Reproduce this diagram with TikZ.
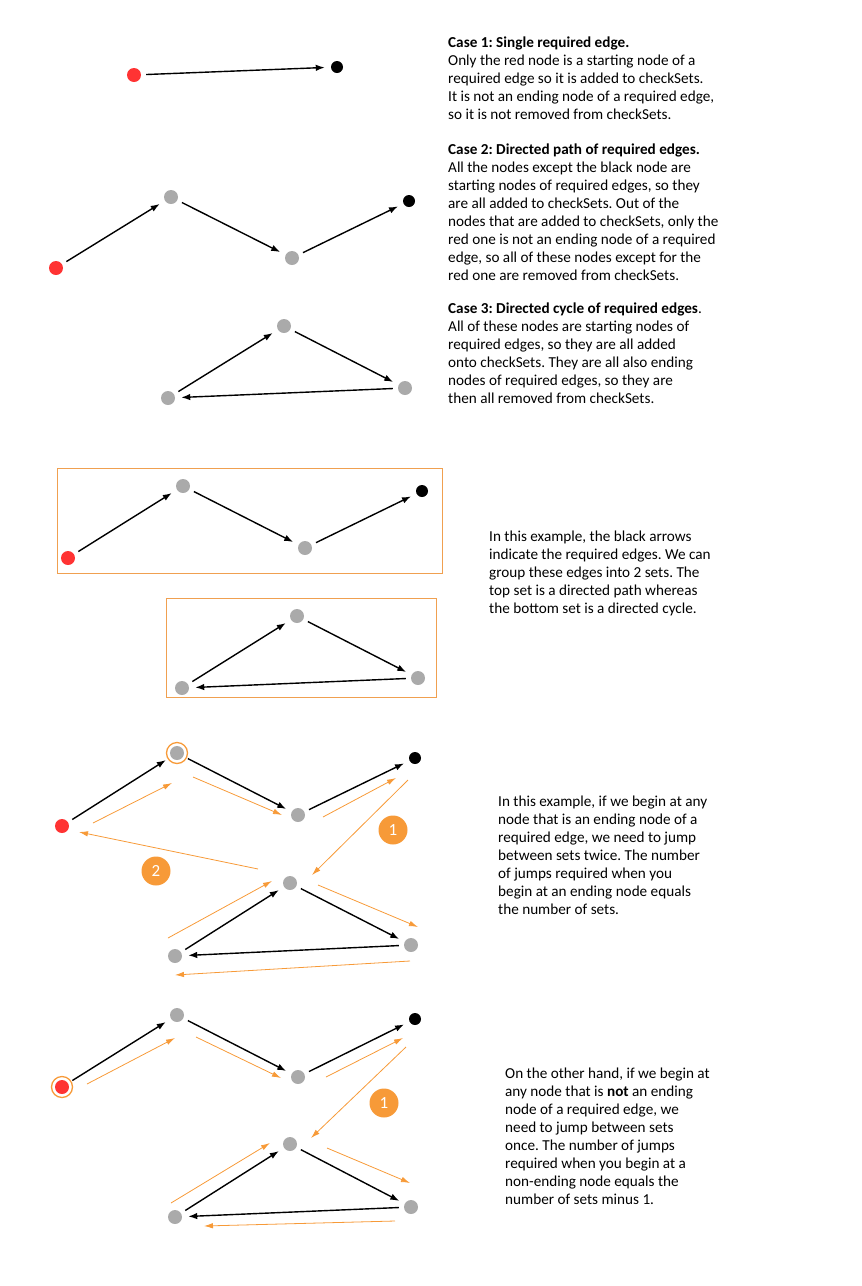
\documentclass[tikz,border=0pt]{standalone}
\usepackage{fontspec}
\setmainfont{Carlito}
\usepackage{xcolor}
\usepackage{tikz}
\usetikzlibrary{arrows.meta}
\usetikzlibrary{calc}
\definecolor{nodegray}{HTML}{AAAAAA}
\definecolor{nodered}{HTML}{FF3333}
\definecolor{walkorange}{HTML}{F79A38}
\definecolor{boxorange}{HTML}{F0A050}
\frenchspacing
\tikzset{ gray_node/.style = {circle, fill=nodegray, minimum size=14pt, inner sep=0pt} }
\tikzset{ red_node/.style = {circle, fill=nodered, minimum size=14pt, inner sep=0pt} }
\tikzset{ end_node/.style = {circle, fill=black, minimum size=12pt, inner sep=0pt} }
\tikzset{ ring_node/.style = {circle, draw=walkorange, line width=1.3pt, minimum size=21pt, inner sep=0pt} }
\tikzset{ jump_badge/.style = {circle, fill=walkorange, text=white, minimum size=29pt, inner sep=0pt, font=\fontsize{17}{17}\selectfont} }
\tikzset{ req_edge/.style = {-{Latex[length=9pt,width=6.5pt]}, line width=1.4pt, shorten <=5pt, shorten >=6pt} }
\tikzset{ walk_edge/.style = {-{Latex[length=9pt,width=5.5pt]}, draw=walkorange, line width=0.8pt} }
\tikzset{ set_box/.style = {draw=boxorange, line width=0.8pt} }
\tikzset{ note_text/.style = {anchor=north west, align=left, inner sep=0pt, font=\fontsize{15.2}{18}\selectfont} }

\begin{document}
\begin{tikzpicture}[x=1pt,y=-1pt]
            \useasboundingbox (0,0) rectangle (862,1286);
            % case 1
            \node [style=red_node] (10) at (134, 75) {};
            \node [style=end_node] (11) at (337, 67) {};
            \draw [req_edge] (10) to (11);
            % case 2
            \node [style=red_node] (20) at (56, 268) {};
            \node [style=gray_node] (21) at (171, 197) {};
            \node [style=gray_node] (22) at (292, 258) {};
            \node [style=end_node] (23) at (409, 201) {};
            \draw [req_edge] (20) to (21);
            \draw [req_edge] (21) to (22);
            \draw [req_edge] (22) to (23);
            % case 3
            \node [style=gray_node] (30) at (284, 326) {};
            \node [style=gray_node] (31) at (405, 388) {};
            \node [style=gray_node] (32) at (168, 398) {};
            \draw [req_edge] (32) to (30);
            \draw [req_edge] (30) to (31);
            \draw [req_edge] (31) to (32);
            % the two sets
            \draw [set_box] (57, 468) rectangle (442, 573);
            \node [style=red_node] (40) at (68, 558) {};
            \node [style=gray_node] (41) at (183, 486) {};
            \node [style=gray_node] (42) at (305, 548) {};
            \node [style=end_node] (43) at (422, 491) {};
            \draw [req_edge] (40) to (41);
            \draw [req_edge] (41) to (42);
            \draw [req_edge] (42) to (43);
            \draw [set_box] (166, 598) rectangle (436, 697);
            \node [style=gray_node] (50) at (297, 616) {};
            \node [style=gray_node] (51) at (418, 678) {};
            \node [style=gray_node] (52) at (182, 688) {};
            \draw [req_edge] (52) to (50);
            \draw [req_edge] (50) to (51);
            \draw [req_edge] (51) to (52);
            % begin at an ending node
            \node [style=red_node] (60) at (62, 826) {};
            \node [style=gray_node] (61) at (177, 753) {};
            \node [style=ring_node] (61r) at (61) {};
            \node [style=gray_node] (62) at (298, 815) {};
            \node [style=end_node] (63) at (415, 758) {};
            \node [style=gray_node] (64) at (290, 883) {};
            \node [style=gray_node] (65) at (411, 945) {};
            \node [style=gray_node] (66) at (175, 956) {};
            \draw [req_edge] (60) to (61);
            \draw [req_edge] (61) to (62);
            \draw [req_edge] (62) to (63);
            \draw [req_edge] (66) to (64);
            \draw [req_edge] (64) to (65);
            \draw [req_edge] (65) to (66);
            \draw [walk_edge] ([shift={(31,-3)}]60.center) to ([shift={(-5,30)}]61.center);
            \draw [walk_edge] ([shift={(16,24)}]61.center) to ([shift={(-16,0)}]62.center);
            \draw [walk_edge] ([shift={(25,2)}]62.center) to ([shift={(-19,20)}]63.center);
            \draw [walk_edge] ([shift={(-7,22)}]63.center) to ([shift={(22,-8)}]64.center);
            \draw [walk_edge] ([shift={(-32,-14)}]64.center) to ([shift={(17,6)}]60.center);
            \draw [walk_edge] ([shift={(-7,-18)}]66.center) to ([shift={(-18,-2)}]64.center);
            \draw [walk_edge] ([shift={(28,2)}]64.center) to ([shift={(7,-18)}]65.center);
            \draw [walk_edge] ([shift={(-1,16)}]65.center) to ([shift={(0,19)}]66.center);
            \node [style=jump_badge] (b1) at (393, 830) {1};
            \node [style=jump_badge] (b2) at (156, 871) {2};
            % begin at a non-ending node
            \node [style=red_node] (70) at (62, 1087) {};
            \node [style=ring_node] (70r) at (70) {};
            \node [style=gray_node] (71) at (177, 1015) {};
            \node [style=gray_node] (72) at (298, 1077) {};
            \node [style=end_node] (73) at (415, 1019) {};
            \node [style=gray_node] (74) at (290, 1144) {};
            \node [style=gray_node] (75) at (411, 1207) {};
            \node [style=gray_node] (76) at (175, 1217) {};
            \draw [req_edge] (70) to (71);
            \draw [req_edge] (71) to (72);
            \draw [req_edge] (72) to (73);
            \draw [req_edge] (76) to (74);
            \draw [req_edge] (74) to (75);
            \draw [req_edge] (75) to (76);
            \draw [walk_edge] ([shift={(25,-3)}]70.center) to ([shift={(-2,23)}]71.center);
            \draw [walk_edge] ([shift={(19,22)}]71.center) to ([shift={(-17,1)}]72.center);
            \draw [walk_edge] ([shift={(28,0)}]72.center) to ([shift={(-12,19)}]73.center);
            \draw [walk_edge] ([shift={(-9,28)}]73.center) to ([shift={(21,-6)}]74.center);
            \draw [walk_edge] ([shift={(-4,-14)}]76.center) to ([shift={(-20,-1)}]74.center);
            \draw [walk_edge] ([shift={(37,4)}]74.center) to ([shift={(-1,-24)}]75.center);
            \draw [walk_edge] ([shift={(-16,14)}]75.center) to ([shift={(29,9)}]76.center);
            \node [style=jump_badge] (b3) at (384, 1103) {1};
            % notes
            \node [style=note_text] (t1) at (448, 37) {\textbf{Case 1: Single required edge.}\\
                Only the red node is a starting node of a\\
                required edge so it is added to checkSets.\\
                It is not an ending node of a required edge,\\
                so it is not removed from checkSets.};
            \node [style=note_text] (t2) at (448, 144) {\textbf{Case 2: Directed path of required edges.}\\
                All the nodes except the black node are\\
                starting nodes of required edges, so they\\
                are all added to checkSets. Out of the\\
                nodes that are added to checkSets, only the\\
                red one is not an ending node of a required\\
                edge, so all of these nodes except for the\\
                red one are removed from checkSets.};
            \node [style=note_text] (t3) at (448, 303) {\textbf{Case 3: Directed cycle of required edges}.\\
                All of these nodes are starting nodes of\\
                required edges, so they are all added\\
                onto checkSets. They are all also ending\\
                nodes of required edges, so they are\\
                then all removed from checkSets.};
            \node [style=note_text] (t4) at (489, 531) {In this example, the black arrows\\
                indicate the required edges. We can\\
                group these edges into 2 sets. The\\
                top set is a directed path whereas\\
                the bottom set is a directed cycle.};
            \node [style=note_text] (t5) at (498, 796) {In this example, if we begin at any\\
                node that is an ending node of a\\
                required edge, we need to jump\\
                between sets twice. The number\\
                of jumps required when you\\
                begin at an ending node equals\\
                the number of sets.};
            \node [style=note_text] (t6) at (505, 1068) {On the other hand, if we begin at\\
                any node that is \textbf{not} an ending\\
                node of a required edge, we\\
                need to jump between sets\\
                once. The number of jumps\\
                required when you begin at a\\
                non-ending node equals the\\
                number of sets minus 1.};
    \end{tikzpicture}
\end{document}
